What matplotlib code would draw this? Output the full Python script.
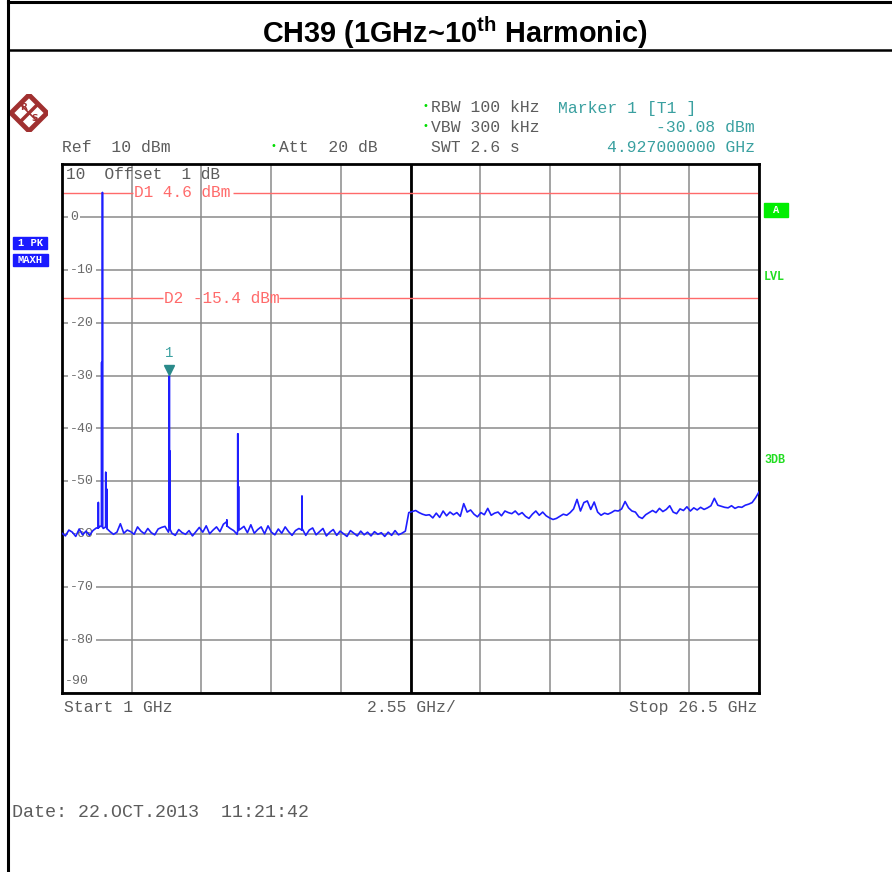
import numpy as np
import matplotlib
matplotlib.use("Agg")
import matplotlib.pyplot as plt
from matplotlib.lines import Line2D
from matplotlib.patches import Polygon, Rectangle

plt.rcParams['mathtext.fontset'] = 'custom'
plt.rcParams['mathtext.rm'] = 'Liberation Sans'
plt.rcParams['mathtext.bf'] = 'Liberation Sans:bold'

# Sweep settings
f_start, f_stop, f_div = 1.0, 26.5, 2.55
ref_level = 10
y_levels = [0, -10, -20, -30, -40, -50, -60, -70, -80]

# Trace (dBm), evenly spaced sweep points from start to stop
noise_db = [
    -59.8, -60.3, -59.2, -59.6, -60.4, -59.0, -60.1, -59.4, -60.2, -59.3,
    -58.8, -58.5, -58.9, -58.6, -59.5, -60.0, -59.6, -58.0, -59.8, -59.2,
    -59.5, -60.0, -58.6, -59.4, -59.9, -58.9, -59.7, -60.1, -59.0, -58.7,
    -58.5, -59.6, -59.8, -60.2, -59.1, -59.7, -60.0, -59.3, -60.3, -59.5,
    -58.7, -59.6, -58.4, -59.9, -59.2, -58.6, -59.5, -58.1, -57.6, -58.9,
    -59.3, -60.0, -59.0, -58.5, -59.7, -58.2, -59.8, -59.1, -58.6, -59.9,
    -58.4, -59.6, -60.1, -59.0, -59.8, -58.6, -59.5, -60.2, -59.3, -58.9,
    -59.0, -60.2, -59.2, -58.8, -60.1, -59.5, -58.9, -60.3, -59.6, -59.1,
    -60.2, -59.4, -59.9, -60.4, -59.3, -59.8, -60.3, -59.4, -60.1, -59.6,
    -60.3, -59.5, -60.0, -59.7, -60.4, -59.6, -60.2, -59.3, -60.1, -59.8,
    -59.4, -55.9,
    -55.7, -55.5, -55.9, -56.2, -56.4, -56.3, -56.9, -56.0, -56.8, -55.6,
    -56.5, -55.8, -56.3, -55.9, -56.6, -54.2, -55.8, -55.4, -56.2, -56.7,
    -55.9, -56.3, -55.1, -56.4, -56.0, -55.8, -56.5, -55.6, -55.9, -56.1,
    -55.6, -56.3, -55.9, -56.6, -57.0, -56.2, -55.6, -56.4, -55.8, -56.5,
    -56.9, -57.2, -57.0, -56.6, -56.2, -56.4, -55.9, -55.2, -53.4, -55.6,
    -54.0, -53.7, -55.3, -53.9, -55.8, -56.4, -56.0, -56.2, -55.9, -55.5,
    -55.6, -55.2, -53.8, -55.0, -55.6, -55.8, -56.7, -57.0, -56.3, -55.9,
    -55.5, -55.9, -55.1, -55.7, -55.3, -54.6, -55.8, -56.1, -55.2, -55.5,
    -54.8, -55.6, -55.0, -55.4, -54.9, -55.3, -55.0, -54.6, -53.2, -54.5,
    -54.7, -54.9, -55.0, -54.6, -55.1, -54.8, -54.9, -54.5, -54.3, -54.0,
    -53.1, -52.0,
]

# Harmonic / spur spikes
spike_ghz = [2.33, 2.45, 2.48, 2.60, 2.64, 4.927, 4.95, 7.03, 7.43, 7.46, 9.78]
spike_top = [-54.0, -27.5, 4.6, -48.3, -51.5, -30.08, -44.3, -57.3, -41.0, -51.0, -52.8]
spike_base = [-58.8, -58.5, -58.5, -58.6, -58.9, -58.6, -59.0, -58.4, -59.3, -59.2, -59.2]

d1_level, d2_level = 4.6, -15.4
marker_ghz, marker_dbm = 4.927, -30.08

W, H = 892, 872
def fx(x): return x / W
def fy(y): return 1 - y / H

# build the trace
sweep = np.linspace(f_start, f_stop, len(noise_db))
tf = list(sweep)
tl = list(noise_db)
for f, top, base in zip(spike_ghz, spike_top, spike_base):
    tf += [f, f, f]
    tl += [base, top, base]
order = np.argsort(np.array(tf), kind='stable')
trace_f = np.array(tf)[order]
trace_l = np.array(tl)[order]

fig = plt.figure(figsize=(8.92, 8.72), dpi=100)

# page frame
fig.add_artist(Line2D([fx(8), fx(8)], [0, 1], color='black', lw=2.2))
fig.add_artist(Line2D([fx(8), 1], [fy(2), fy(2)], color='black', lw=2.2))
fig.add_artist(Line2D([fx(8), 1], [fy(50), fy(50)], color='black', lw=1.8))
fig.text(fx(455), fy(33), r'CH39 (1GHz~10$^{\mathbf{th}}$ Harmonic)', fontsize=20.8,
         fontweight='bold', family='Liberation Sans', ha='center', va='center')

# spectrum grid
ax = fig.add_axes([fx(62), fy(693), (759 - 62) / W, (693 - 164) / H])
ax.set_xlim(f_start, f_stop)
ax.set_ylim(ref_level - 100, ref_level)
ax.set_xticks(f_start + np.arange(11) * f_div)
ax.set_yticks(np.arange(-90, 11, 10))
ax.tick_params(length=0, labelbottom=False, labelleft=False)
ax.grid(color='#8a8a8a', lw=1.1)
for s in ax.spines.values():
    s.set_linewidth(2)
ax.axvline((f_start + f_stop) / 2, color='black', lw=2)

mono = 'Liberation Mono'
gray = '#5c5c5c'
teal = '#3aa0a0'
red = '#ff6a6a'

ytr = ax.get_yaxis_transform()
for v in y_levels:
    ax.text(0.0115, v, str(v), transform=ytr, family=mono, fontsize=9.5, color='#6a6a6a',
            ha='left', va='center', bbox=dict(facecolor='white', edgecolor='none', pad=1.5))
ax.text(0.004, -87.7, '-90', transform=ytr, family=mono, fontsize=9.5, color='#6a6a6a',
        ha='left', va='center')
ax.text(0.006, 8.1, '10  Offset  1 dB', transform=ytr, family=mono, fontsize=11.6,
        color=gray, ha='left', va='center')

# display lines
ax.hlines([d1_level] * 2, [f_start, 7.25], [3.6, f_stop], color=red, lw=1)
ax.text(3.62, d1_level, 'D1 4.6 dBm', family=mono, fontsize=11.6, color=red, ha='left', va='center')
ax.hlines([d2_level] * 2, [f_start, 8.95], [4.7, f_stop], color=red, lw=1)
ax.text(4.72, d2_level, 'D2 -15.4 dBm', family=mono, fontsize=11.6, color=red, ha='left', va='center')

ax.plot(trace_f, trace_l, color='#1e1eff', lw=1.2, zorder=5)

ax.plot(marker_ghz, marker_dbm + 1.2, marker='v', color='#2a8a8a', ms=7, zorder=6)
ax.text(marker_ghz, marker_dbm + 3.0, '1', family=mono, fontsize=10, color=teal,
        ha='center', va='bottom')

# header
hdr = dict(family=mono, fontsize=11.8, color=gray, va='center')
fig.text(fx(62), fy(148), 'Ref  10 dBm', **hdr)
fig.text(fx(279), fy(148), 'Att  20 dB', **hdr)
fig.text(fx(431), fy(108), 'RBW 100 kHz', **hdr)
fig.text(fx(431), fy(128), 'VBW 300 kHz', **hdr)
fig.text(fx(431), fy(148), 'SWT 2.6 s', **hdr)
for bx, by in [(273, 146), (425, 106), (425, 126)]:
    fig.text(fx(bx), fy(by), '•', color='#00dd00', fontsize=7, ha='center', va='center')
fig.text(fx(558), fy(108), 'Marker 1 [T1 ]', family=mono, fontsize=11.8, color=teal, va='center')
fig.text(fx(755), fy(128), '%.2f dBm' % marker_dbm, family=mono, fontsize=11.8, color=teal,
         va='center', ha='right')
fig.text(fx(755), fy(148), '%.9f GHz' % marker_ghz, family=mono, fontsize=11.8, color=teal,
         va='center', ha='right')

# footer
fig.text(fx(64), fy(707), 'Start 1 GHz', **hdr)
fig.text(fx(411), fy(707), '2.55 GHz/', family=mono, fontsize=11.8, color=gray, va='center', ha='center')
fig.text(fx(757), fy(707), 'Stop 26.5 GHz', family=mono, fontsize=11.8, color=gray, va='center', ha='right')
fig.text(fx(12), fy(812), 'Date: 22.OCT.2013  11:21:42', family=mono, fontsize=13.2,
         color=gray, va='center')

# side annotations
def box(x0, y0, x1, y1, color, label, fs=7.5):
    fig.add_artist(Rectangle((fx(x0), fy(y1)), (x1 - x0) / W, (y1 - y0) / H, color=color,
                             transform=fig.transFigure))
    fig.text(fx((x0 + x1) / 2), fy((y0 + y1) / 2), label, family=mono, fontweight='bold',
             fontsize=fs, color='white', ha='center', va='center')

box(13, 237, 47, 249, '#1a1aff', '1 PK')
box(13, 254, 48, 266, '#1a1aff', 'MAXH')
box(764, 203, 788, 217, '#00ee00', 'A')
fig.text(fx(764), fy(277), 'LVL', family=mono, fontweight='bold', fontsize=8.5, color='#22dd22', va='center')
fig.text(fx(764), fy(460), '3DB', family=mono, fontweight='bold', fontsize=8.5, color='#22dd22', va='center')

# R&S logo
lg = fig.add_axes([fx(10), fy(132), 38 / W, 38 / H])
lg.set_xlim(-1, 1)
lg.set_ylim(-1, 1)
lg.axis('off')
lg.add_patch(Polygon([[0, 0.95], [0.95, 0], [0, -0.95], [-0.95, 0]], closed=True,
                     facecolor='white', edgecolor='#a03030', lw=3.5))
lg.plot([-0.45, 0.45], [-0.45, 0.45], color='#a03030', lw=2.5)
lg.plot([-0.45, 0.45], [0.45, -0.45], color='#a03030', lw=1.2)
lg.text(-0.3, 0.3, 'R', color='#a03030', fontsize=6.5, ha='center', va='center', fontweight='bold')
lg.text(0.3, -0.3, 'S', color='#a03030', fontsize=6.5, ha='center', va='center', fontweight='bold')

fig.savefig('out.png', dpi=100)
